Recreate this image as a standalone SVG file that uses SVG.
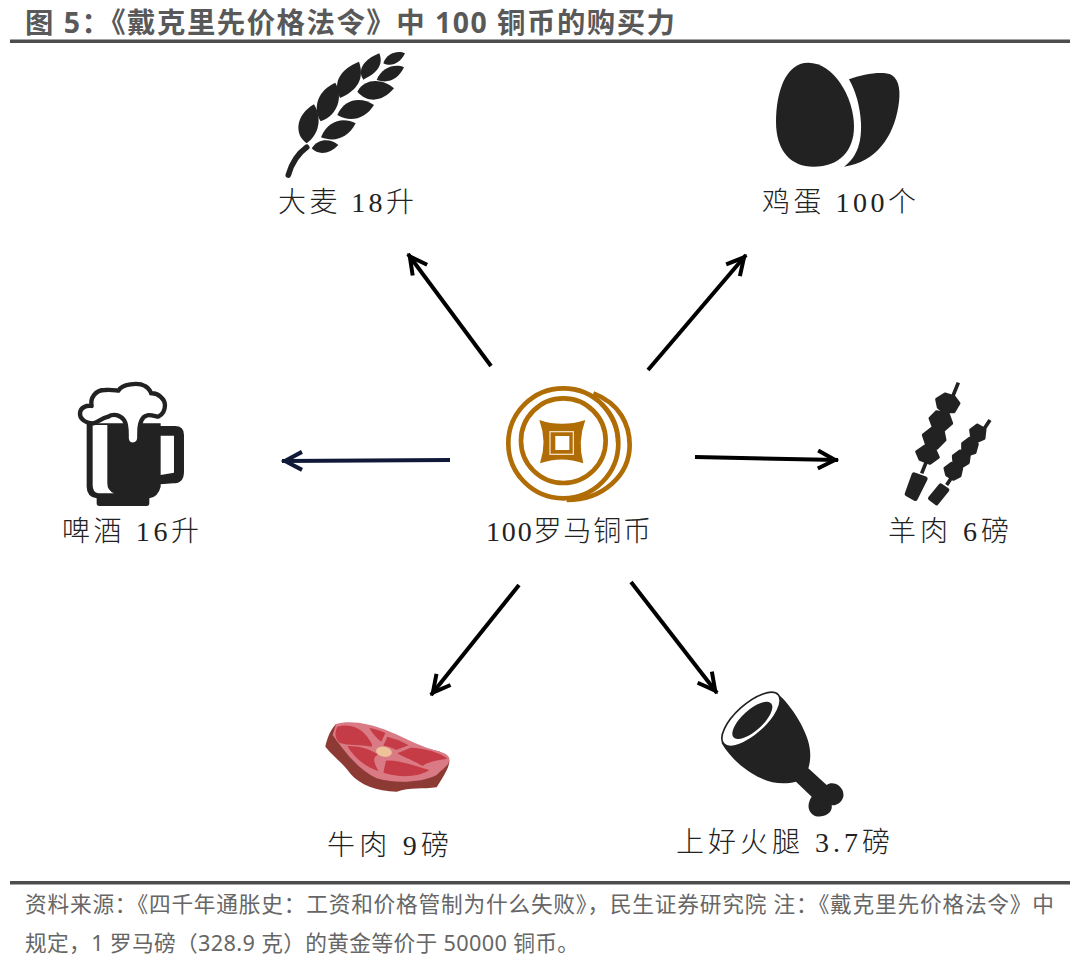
<svg xmlns="http://www.w3.org/2000/svg" width="1080" height="961" viewBox="0 0 1080 961">
<style>
.lab{font-family:"Liberation Serif","Noto Sans CJK SC",serif;font-size:28px;fill:#222;font-weight:300}
.title{font-family:"Noto Sans","Noto Sans CJK SC",sans-serif;font-size:28.4px;font-weight:700;fill:#595959}
.foot{font-family:"Noto Sans","Noto Sans CJK SC",sans-serif;font-size:21.7px;fill:#666}
.k{fill:#222}
.arr{fill:none;stroke:#000;stroke-width:4;marker-end:url(#head)}
.c{fill:none;stroke:#b06d05;stroke-width:14}
.rd{fill:#c63c46}
</style>
<defs>
<marker id="head" markerUnits="userSpaceOnUse" markerWidth="24" markerHeight="24" refX="23" refY="12" orient="auto" viewBox="0 0 24 24" overflow="visible"><path d="M3 3L20 12L3 21" fill="none" stroke="context-stroke" stroke-width="4"/></marker>
</defs>
<rect width="1080" height="961" fill="#fff"/>
<g id="header">
<text class="title" x="25" y="33" textLength="650">图 5&#xFF1A;《戴克里先价格法令》中 100 铜币的购买力</text>
<rect x="10" y="39.500" width="1060" height="3.500" fill="#4d4d4d"/>
</g>
<g id="connectors">
<path class="arr" d="M491 366L408 254"/>
<path class="arr" d="M648 370L746 255"/>
<path class="arr" style="stroke:#101a38" d="M450 460L282 461"/>
<path class="arr" d="M695 457L838 460"/>
<path class="arr" d="M519 585L431 695"/>
<path class="arr" d="M631 582L717 693"/>
</g>
<g id="node-barley">
<g class="k" transform="translate(260 40) scale(.3333)">
<path d="M85 405C95 370 115 340 140 322" fill="none" stroke="#222" stroke-width="17" stroke-linecap="round"/>
<path d="M162 193C188 235 176 285 140 310C102 285 106 225 162 193Z"/>
<path d="M226 128C250 170 234 225 182 244C155 200 176 150 226 128Z"/>
<path d="M297 65C314 115 294 150 240 174C216 125 242 88 297 65Z"/>
<path d="M358 40C372 75 350 100 310 119C290 90 312 58 358 40Z"/>
<path d="M155 325C175 292 215 296 235 315C210 342 175 347 155 325Z"/>
<path d="M183 292C205 236 255 232 287 250C265 294 225 308 183 292Z"/>
<path d="M232 225C255 170 310 172 342 195C315 238 270 248 232 225Z"/>
<path d="M292 155C315 112 370 116 402 145C370 184 325 192 292 155Z"/>
<path d="M350 120C365 82 405 70 432 82C415 118 385 132 350 120Z"/>
<path d="M370 70C380 38 415 30 435 40C420 70 395 82 370 70Z"/>
</g>
<text class="lab" x="278" y="212" textLength="136">大麦  18升</text>
</g>
<g id="node-eggs">
<g class="k" transform="translate(750 50) scale(.3333)">
<path d="M175 38C105 38 78 130 78 215C78 305 125 350 190 350C270 350 312 300 312 230C312 140 250 38 175 38Z"/>
<path d="M297 88C340 72 400 62 425 75C450 90 452 130 445 170C430 260 380 335 282 350C325 320 335 270 333 220C330 170 318 125 297 88Z"/>
</g>
<text class="lab" x="762" y="212" textLength="154">鸡蛋  100个</text>
</g>
<g id="node-beer">
<g transform="translate(50 370) scale(.3333)">
<path class="k" d="M110 160H332V168H375Q402 168 402 195V305Q402 340 370 340L332 343V350Q325 380 298 385V400Q298 408 290 408H148Q140 408 140 400V385Q110 380 110 350ZM332 197V315L372 308V197Z" fill-rule="evenodd"/>
<path d="M128 165H172V340Q172 362 192 370H145Q128 368 128 345Z" fill="#fff"/>
<path d="M130 160C105 160 88 145 90 128C92 112 110 105 125 108C120 85 135 60 165 60C185 58 200 62 205 62C215 42 265 36 285 48C298 55 303 68 303 70C325 68 345 88 345 105C345 125 335 135 325 140C300 135 285 130 275 150C268 165 268 175 268 205C265 230 232 230 230 205C230 185 232 165 222 150C210 135 190 130 175 140C155 145 145 155 130 160Z" fill="#fff" stroke="#222" stroke-width="13" stroke-linejoin="round"/>
</g>
<text class="lab" x="62" y="541" textLength="137">啤酒  16升</text>
</g>
<g id="node-coin">
<g transform="translate(480 375) scale(.3333)">
<circle class="c" cx="250" cy="205" r="165"/>
<circle class="c" cx="250" cy="197" r="127"/>
<path class="c" d="M340 55C420 85 449 150 449 210C449 300 370 375 260 375"/>
<path class="c" d="M360 85C395 120 412 160 412 205" style="stroke-width:9"/>
<path d="M178 135Q245 158 316 135Q292 200 310 265Q245 242 180 265Q202 200 178 135Z" fill="#b06d05"/>
<rect x="210" y="170" width="70" height="68" fill="none" stroke="#f1dcbd" stroke-width="4"/>
<rect x="226" y="183" width="42" height="42" fill="#fff"/>
</g>
<text class="lab" x="486" y="541" textLength="165">100罗马铜币</text>
</g>
<g id="node-skewers">
<g class="k" transform="translate(880 370) scale(.3333)" stroke="#222" stroke-linejoin="round">
<path d="M235 38L125 310M330 150L200 345" stroke-width="11" fill="none"/>
<path d="M102 314L136 326L106 386L81 372Z" stroke-width="14"/>
<path d="M182 346L202 360L170 400L150 385Z" stroke-width="12"/>
<g stroke-width="9">
<path d="M170 88L195 72L222 80L237 100L222 125L190 125L175 112Z"/>
<path d="M150 145L170 125L205 132L215 160L190 182L160 172Z"/>
<path d="M130 195L155 175L190 185L195 210L170 235L140 225Z"/>
<path d="M110 245L135 228L165 240L175 262L150 280L120 268Z"/>
<path d="M272 180L292 165L315 178L312 205L290 215L275 203Z"/>
<path d="M248 220L268 205L292 222L285 248L262 255L248 240Z"/>
<path d="M220 258L240 243L268 255L265 278L243 292L222 280Z"/>
<path d="M195 295L215 280L245 295L240 318L220 328L200 315Z"/>
</g>
</g>
<text class="lab" x="888" y="541" textLength="121">羊肉  6磅</text>
</g>
<g id="node-beef">
<g transform="translate(310 700) scale(.3333)">
<path d="M78 72C60 90 50 120 46 140C70 170 100 190 120 220C150 255 200 275 260 275C300 262 340 268 380 262C400 230 420 200 418 180L390 155Z" fill="#8d3a35"/>
<path d="M78 72C120 60 180 70 240 95C290 115 330 140 390 155C410 160 420 170 418 180C418 195 400 205 380 225C330 250 250 250 200 235C140 205 100 150 68 105Z" fill="#d97a85"/>
<path class="rd" d="M82 80C115 70 150 82 170 108C180 122 190 135 185 140C150 132 115 138 88 128C76 115 72 100 82 80Z"/>
<path class="rd" d="M178 84C195 87 210 92 226 99L214 125C200 115 188 102 178 84Z"/>
<path class="rd" d="M232 110C255 116 278 124 296 136L258 150C244 142 232 138 220 137Z"/>
<path class="rd" d="M112 138C150 138 182 148 204 164C184 172 194 192 206 214C162 198 132 172 112 138Z"/>
<path class="rd" d="M228 182C262 178 315 198 358 210C325 232 270 234 220 218Z"/>
<path class="rd" d="M302 143C342 143 392 158 412 176C382 180 352 186 338 198C312 182 280 172 262 160Z"/>
<ellipse cx="222" cy="155" rx="24" ry="15" transform="rotate(10 222 155)" fill="#eec39a"/>
</g>
<text class="lab" x="327" y="855" textLength="122">牛肉  9磅</text>
</g>
<g id="node-ham">
<g transform="translate(670 680) scale(.3333)">
<path class="k" d="M155 190C175 130 240 50 320 40C350 60 400 130 415 185C425 220 420 250 415 265L470 315C490 300 525 320 520 350C515 370 495 378 485 375C490 400 460 415 435 408C410 395 412 370 425 350L378 305C330 318 285 305 245 280C210 258 175 225 155 190Z"/>
<ellipse cx="243" cy="118" rx="110" ry="46" transform="rotate(-42 243 118)" fill="#fff" stroke="#222" stroke-width="5"/>
<ellipse cx="247" cy="121" rx="76" ry="31" transform="rotate(-42 247 121)" fill="#222"/>
</g>
<text class="lab" x="676" y="852" textLength="214">上好火腿  3.7磅</text>
</g>
<g id="footer">
<rect x="10" y="881" width="1060" height="3.500" fill="#4d4d4d"/>
<text class="foot" x="25" y="912" textLength="1029">资料来源&#xFF1A;《四千年通胀史&#xFF1A;工资和价格管制为什么失败》&#xFF0C;民生证券研究院 注&#xFF1A;《戴克里先价格法令》中</text>
<text class="foot" x="25" y="951" textLength="554">规定&#xFF0C;1 罗马磅&#xFF08;328.9 克&#xFF09;的黄金等价于 50000 铜币。</text>
</g>
</svg>
